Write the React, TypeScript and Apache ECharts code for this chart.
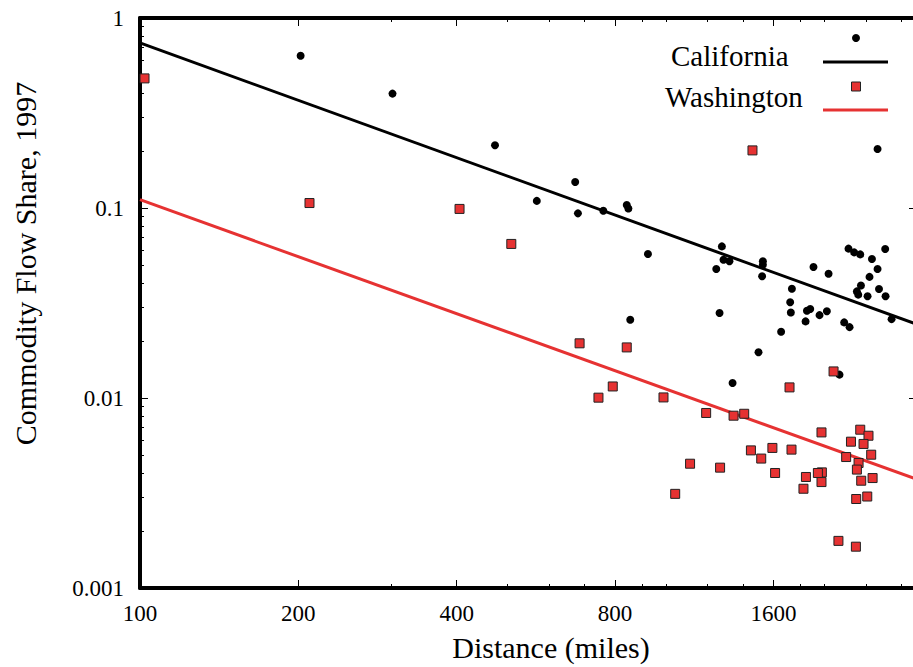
import React, { useEffect, useRef } from "react";
import * as echarts from "echarts";

// ---- Data ----
const caDistance = [202, 302, 473, 568, 672, 680, 760, 842, 848, 924, 855, 1277, 1286, 1320, 1246, 1528, 1528, 1523, 1907, 2037, 2223, 2279, 2340, 2610, 2463, 2524, 2437, 2347, 2306, 2320, 2416, 2540, 2614, 2684, 1735, 1722, 1727, 1264, 1853, 1880, 1958, 2022, 1842, 2181, 2233, 1655, 1499, 2137, 1338, 2524];
const caShare = [0.633, 0.4, 0.214, 0.109, 0.137, 0.0937, 0.0968, 0.1037, 0.0995, 0.0573, 0.0258, 0.0628, 0.0534, 0.0524, 0.0477, 0.0524, 0.0503, 0.0437, 0.0489, 0.0451, 0.0611, 0.0584, 0.057, 0.0608, 0.0539, 0.0477, 0.0434, 0.0391, 0.0364, 0.035, 0.0343, 0.0375, 0.0343, 0.026, 0.0376, 0.0319, 0.0282, 0.028, 0.0288, 0.0294, 0.0273, 0.0286, 0.0253, 0.025, 0.0236, 0.0223, 0.0174, 0.01327, 0.012, 0.2045];

const waDistance = [102, 210, 405, 508, 685, 842, 792, 744, 1460, 2082, 1717, 989, 1192, 1344, 1408, 1975, 2340, 2426, 2247, 2374, 1450, 1593, 1732, 1517, 1111, 1267, 1612, 2200, 2455, 2323, 2306, 1978, 1944, 1845, 1975, 1825, 2350, 2470, 2299, 2413, 1041, 2127, 2296];
const waShare = [0.481, 0.1062, 0.0989, 0.0647, 0.0194, 0.01846, 0.0115, 0.01004, 0.201, 0.0138, 0.01137, 0.01007, 0.00834, 0.00807, 0.00826, 0.00659, 0.00681, 0.00633, 0.00589, 0.00573, 0.0053, 0.00546, 0.00535, 0.0048, 0.00451, 0.0043, 0.00403, 0.00489, 0.00503, 0.00455, 0.0042, 0.00406, 0.00403, 0.00384, 0.00361, 0.00333, 0.00367, 0.00379, 0.00294, 0.00303, 0.00313, 0.00177, 0.00165];

// fitted lines (endpoints)
const caFitDistance = [100, 3000];
const caFitShare = [0.739, 0.0244];
const waFitDistance = [100, 3000];
const waFitShare = [0.1106, 0.00373];

// ticks
const xMajorTicks = [100, 200, 400, 800, 1600];
const xMajorLabels = ["100", "200", "400", "800", "1600"];
const xMinorTicks = [300, 500, 600, 700, 900, 1000, 1200, 1400, 1800, 2000, 2400, 2800];
const yMajorTicks = [0.001, 0.01, 0.1, 1];
const yMajorLabels = ["0.001", "0.01", "0.1", "1"];
const yMinorTicks = [
  0.002, 0.003, 0.004, 0.005, 0.006, 0.007, 0.008, 0.009,
  0.02, 0.03, 0.04, 0.05, 0.06, 0.07, 0.08, 0.09,
  0.2, 0.3, 0.4, 0.5, 0.6, 0.7, 0.8, 0.9,
];

const RED = "#e63232";
const FONT = '"Liberation Serif", "Times New Roman", serif';

function labelFor(values: number[], labels: string[]) {
  return (v: number) => {
    for (let i = 0; i < values.length; i++) {
      if (Math.abs(Math.log(v) - Math.log(values[i])) < 1e-6) return labels[i];
    }
    return "";
  };
}

function makeAxis(opts: {
  position: string;
  base: number;
  min: number;
  max: number;
  ticks: number[];
  len: number;
  line: boolean;
  labels?: { values: number[]; labels: string[]; margin: number };
}) {
  return {
    type: "log",
    logBase: opts.base,
    position: opts.position,
    min: opts.min,
    max: opts.max,
    splitLine: { show: false },
    minorTick: { show: false },
    minorSplitLine: { show: false },
    axisLine: { show: opts.line, lineStyle: { color: "#000", width: 4 } },
    axisTick: {
      show: true,
      inside: true,
      length: opts.len,
      customValues: opts.ticks,
      lineStyle: { color: "#000", width: 1 },
    },
    axisLabel: opts.labels
      ? {
          show: true,
          customValues: opts.labels.values,
          formatter: labelFor(opts.labels.values, opts.labels.labels),
          fontFamily: FONT,
          fontSize: 23,
          color: "#000",
          margin: opts.labels.margin,
        }
      : { show: false },
    axisPointer: { show: false },
  };
}

export default function App() {
  const ref = useRef<HTMLDivElement>(null);

  useEffect(() => {
    if (!ref.current) return;
    const chart = echarts.init(ref.current, null, { renderer: "svg" });

    const caPoints = caDistance.map((d, i) => [d, caShare[i]]);
    const waPoints = waDistance.map((d, i) => [d, waShare[i]]);
    const caFit = caFitDistance.map((d, i) => [d, caFitShare[i]]);
    const waFit = waFitDistance.map((d, i) => [d, waFitShare[i]]);

    chart.setOption({
      animation: false,
      backgroundColor: "#fff",
      grid: {
        left: 140,
        top: 18,
        width: 777,
        height: 570,
        containLabel: false,
        outerBoundsMode: "none",
      },
      xAxis: [
        makeAxis({ position: "bottom", base: 2, min: 100, max: 3000, ticks: xMajorTicks, len: 8, line: true, labels: { values: xMajorTicks, labels: xMajorLabels, margin: 14 } }),
        makeAxis({ position: "bottom", base: 2, min: 100, max: 3000, ticks: xMinorTicks, len: 4, line: false }),
        makeAxis({ position: "top", base: 2, min: 100, max: 3000, ticks: xMajorTicks, len: 8, line: true }),
        makeAxis({ position: "top", base: 2, min: 100, max: 3000, ticks: xMinorTicks, len: 4, line: false }),
      ],
      yAxis: [
        makeAxis({ position: "left", base: 10, min: 0.001, max: 1, ticks: yMajorTicks, len: 8, line: true, labels: { values: yMajorTicks, labels: yMajorLabels, margin: 16 } }),
        makeAxis({ position: "left", base: 10, min: 0.001, max: 1, ticks: yMinorTicks, len: 4, line: false }),
        makeAxis({ position: "right", base: 10, min: 0.001, max: 1, ticks: yMajorTicks, len: 8, line: true }),
        makeAxis({ position: "right", base: 10, min: 0.001, max: 1, ticks: yMinorTicks, len: 4, line: false }),
      ],
      series: [
        {
          type: "line",
          name: "California fit",
          data: caFit,
          showSymbol: false,
          symbol: "none",
          lineStyle: { color: "#000", width: 3 },
          z: 2,
        },
        {
          type: "line",
          name: "Washington fit",
          data: waFit,
          showSymbol: false,
          symbol: "none",
          lineStyle: { color: RED, width: 3 },
          z: 2,
        },
        {
          type: "scatter",
          name: "California",
          data: caPoints,
          symbol: "circle",
          symbolSize: 8,
          itemStyle: { color: "#000", opacity: 1 },
          z: 3,
        },
        {
          type: "scatter",
          name: "Washington",
          data: waPoints,
          symbol: "rect",
          symbolSize: 9,
          itemStyle: { color: RED, borderColor: "#222", borderWidth: 1, opacity: 1 },
          z: 4,
        },
      ],
      graphic: [
        {
          type: "text",
          x: 551,
          y: 647,
          style: {
            text: "Distance (miles)",
            font: `30px ${FONT}`,
            fill: "#000",
            align: "center",
            verticalAlign: "middle",
            textAlign: "center",
            textVerticalAlign: "middle",
          },
        },
        {
          type: "text",
          x: 25,
          y: 263.5,
          rotation: Math.PI / 2,
          style: {
            text: "Commodity Flow Share, 1997",
            font: `30px ${FONT}`,
            fill: "#000",
            align: "center",
            verticalAlign: "middle",
            textAlign: "center",
            textVerticalAlign: "middle",
          },
        },
        {
          type: "text",
          x: 671,
          y: 56.3,
          style: {
            text: "California",
            font: `29px ${FONT}`,
            fill: "#000",
            align: "left",
            verticalAlign: "middle",
            textAlign: "left",
            textVerticalAlign: "middle",
          },
        },
        {
          type: "text",
          x: 665,
          y: 96.5,
          style: {
            text: "Washington",
            font: `29px ${FONT}`,
            fill: "#000",
            align: "left",
            verticalAlign: "middle",
            textAlign: "left",
            textVerticalAlign: "middle",
          },
        },
        { type: "circle", shape: { cx: 856, cy: 38, r: 4 }, style: { fill: "#000" } },
        {
          type: "rect",
          shape: { x: 851.5, y: 82, width: 9, height: 9 },
          style: { fill: RED, stroke: "#222", lineWidth: 1 },
        },
        { type: "line", shape: { x1: 823, y1: 62, x2: 888, y2: 62 }, style: { stroke: "#000", lineWidth: 3 } },
        { type: "line", shape: { x1: 823, y1: 110, x2: 888, y2: 110 }, style: { stroke: RED, lineWidth: 3 } },
      ],
    });

    return () => chart.dispose();
  }, []);

  return (
    <div
      ref={ref}
      style={{ position: "absolute", left: 0, top: 0, width: 913, height: 667 }}
    />
  );
}
